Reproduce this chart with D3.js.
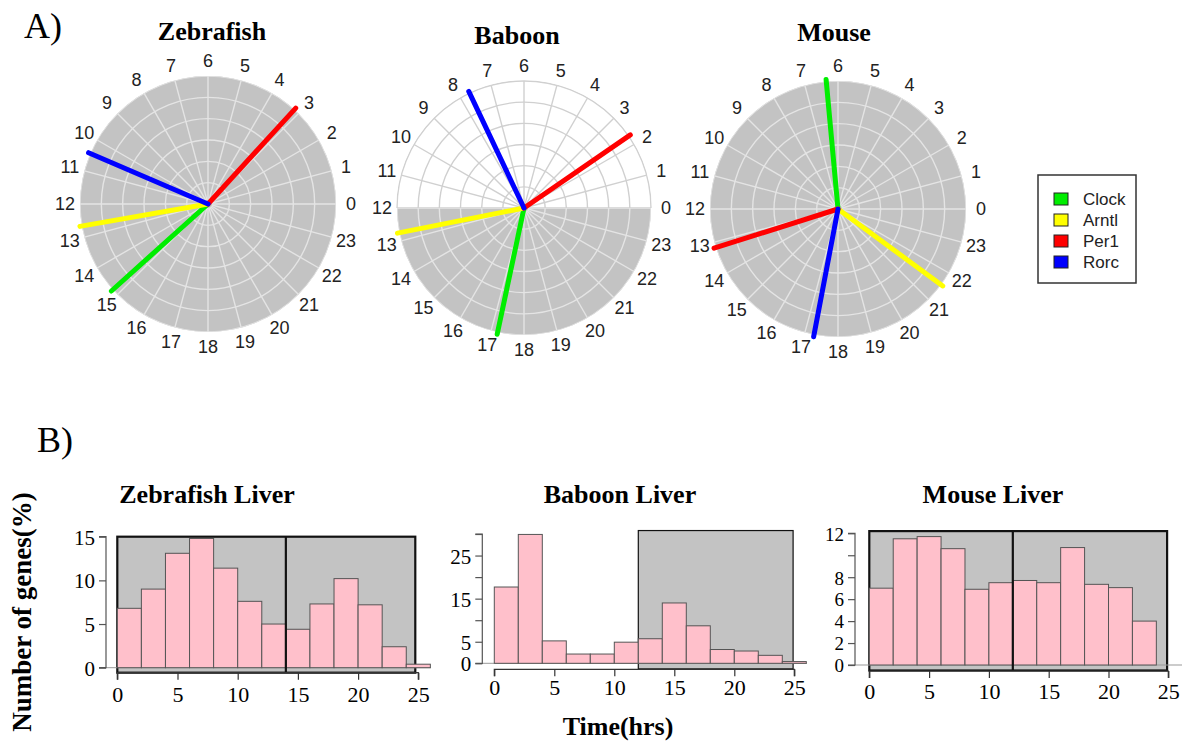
<!DOCTYPE html>
<html>
<head>
<meta charset="utf-8">
<script src="https://cdn.jsdelivr.net/npm/d3@7"></script>
<style>
  html, body { margin: 0; padding: 0; background: #fff; }
  svg { display: block; }
</style>
</head>
<body>
<script>
// ---------------- DATA ----------------
const hourTicks = d3.range(0, 24);
const genes = ["Clock", "Arntl", "Per1", "Rorc"];
const geneColors = ["#00ee00", "#ffff00", "#ff0000", "#0000ff"];

const polarTitles = ["Zebrafish", "Baboon", "Mouse"];
const zebrafishPhase = [14.8, 12.66, 3.17, 10.45];
const baboonPhase = [17.2, 12.75, 2.3, 7.69];
const mousePhase = [6.35, 21.58, 13.17, 17.28];
// dark (gray) part of the clock, in hours
const zebrafishDark = [0, 24];
const baboonDark = [12, 24];
const mouseDark = [0, 24];

const binStarts = [0, 2, 4, 6, 8, 10, 12, 14, 16, 18, 20, 22, 24];
const zebrafishLiver = [6.8, 9.0, 13.1, 14.8, 11.4, 7.6, 5.0, 4.4, 7.3, 10.2, 7.2, 2.4, 0.4];
const baboonLiver = [17.7, 29.9, 5.2, 2.15, 2.15, 4.9, 5.7, 14.0, 8.7, 3.2, 2.85, 1.85, 0.4];
const mouseLiver = [7.0, 11.5, 11.7, 10.6, 6.9, 7.5, 7.7, 7.5, 10.7, 7.35, 7.05, 4.0];

const xTickValues = [0, 5, 10, 15, 20, 25];
const zebrafishYTicks = [0, 5, 10, 15];
const baboonYTicks = [0, 5, 10, 15, 20, 25, 30];
const baboonYLabels = [0, 5, 15, 25];
const mouseYTicks = [0, 2, 4, 6, 8, 10, 12];
const mouseYLabels = [0, 2, 4, 6, 8, 12];

// shaded boxes: [xStart, xEnd, yBottom, yTop] and divider position
const zebrafishShade = [0, 24.75, -0.57, 15];
const zebrafishDivider = 14;
const baboonShade = [12, 24.9, -1.3, 30.8];
const mouseShade = [0, 24.9, -0.5, 12.2];
const mouseDivider = 12;

// ---------------- DRAW ----------------
const W = 1184, H = 742;
const svg = d3.select("body").append("svg").attr("width", W).attr("height", H);
const serif = "'Liberation Serif', 'Times New Roman', serif";
const sans = "'Liberation Sans', Arial, sans-serif";
const GRAY = "#c3c3c3";

svg.append("text").attr("x", 24).attr("y", 38).attr("font-family", serif)
  .attr("font-size", 36).attr("fill", "#000").text("A)");
svg.append("text").attr("x", 37).attr("y", 452).attr("font-family", serif)
  .attr("font-size", 36).attr("fill", "#000").text("B)");

const defs = svg.append("defs");
let clipId = 0;

function drawPolar(cx, cy, R, title, titleX, titleY, phases, dark) {
  const g = svg.append("g");
  const ang = d3.scaleLinear().domain([0, 24]).range([0, 2 * Math.PI]); // ccw from east
  const px = (h, r) => cx + r * Math.cos(ang(h));
  const py = (h, r) => cy - r * Math.sin(ang(h));
  const rScale = d3.scaleLinear().domain([0, 6]).range([0, R]);
  const toD3 = h => Math.PI / 2 - ang(h);

  g.append("text").attr("x", titleX).attr("y", titleY).attr("text-anchor", "middle")
    .attr("font-family", serif).attr("font-weight", "bold").attr("font-size", 26).text(title);

  g.append("circle").attr("cx", cx).attr("cy", cy).attr("r", R).attr("fill", "#fff");
  const full = dark[1] - dark[0] >= 24;
  const darkPath = full
    ? d3.arc().innerRadius(0).outerRadius(R).startAngle(0).endAngle(2 * Math.PI)()
    : d3.arc().innerRadius(0).outerRadius(R).startAngle(toD3(dark[1])).endAngle(toD3(dark[0]))();
  g.append("path").attr("transform", `translate(${cx},${cy})`).attr("d", darkPath).attr("fill", GRAY);

  const idD = "clipD" + (clipId++);
  defs.append("clipPath").attr("id", idD).append("path")
    .attr("transform", `translate(${cx},${cy})`).attr("d", darkPath);
  let idL = null;
  if (!full) {
    idL = "clipL" + (clipId++);
    const lightPath = d3.arc().innerRadius(0).outerRadius(R + 1)
      .startAngle(toD3(dark[1] - 24)).endAngle(toD3(dark[0]));
    defs.append("clipPath").attr("id", idL).append("path")
      .attr("transform", `translate(${cx},${cy})`).attr("d", lightPath());
  }

  function grid(parent, color) {
    parent.selectAll("circle.ring").data(d3.range(1, 7)).join("circle")
      .attr("cx", cx).attr("cy", cy).attr("r", d => rScale(d))
      .attr("fill", "none").attr("stroke", color).attr("stroke-width", 1.4);
    parent.selectAll("line.rad").data(hourTicks).join("line")
      .attr("x1", d => px(d, 4)).attr("y1", d => py(d, 4))
      .attr("x2", d => px(d, R)).attr("y2", d => py(d, R))
      .attr("stroke", color).attr("stroke-width", 1.4);
  }
  grid(g.append("g").attr("clip-path", `url(#${idD})`), "#e4e4e4");
  if (idL) grid(g.append("g").attr("clip-path", `url(#${idL})`), "#d0d0d0");

  g.selectAll("text.hr").data(hourTicks).join("text")
    .attr("x", d => px(d, R + 15)).attr("y", d => py(d, R + 15))
    .attr("text-anchor", "middle").attr("dominant-baseline", "central")
    .attr("font-family", sans).attr("font-size", 18).attr("fill", "#222").text(d => d);

  g.selectAll("line.gene").data(phases).join("line")
    .attr("x1", cx).attr("y1", cy)
    .attr("x2", d => px(d, R + 2)).attr("y2", d => py(d, R + 2))
    .attr("stroke", (d, i) => geneColors[i]).attr("stroke-width", 5)
    .attr("stroke-linecap", "round");
}

drawPolar(208, 204, 128, polarTitles[0], 212, 40, zebrafishPhase, zebrafishDark);
drawPolar(524, 208, 127, polarTitles[1], 517, 44, baboonPhase, baboonDark);
drawPolar(838, 209, 128, polarTitles[2], 834, 41, mousePhase, mouseDark);

// legend
const lg = svg.append("g");
lg.append("rect").attr("x", 1038).attr("y", 175).attr("width", 98).attr("height", 108)
  .attr("fill", "#fff").attr("stroke", "#333").attr("stroke-width", 1.5);
const ly = d3.scalePoint().domain(genes).range([199, 262]);
lg.selectAll("rect.sw").data(genes).join("rect")
  .attr("x", 1054).attr("y", d => ly(d) - 6).attr("width", 14).attr("height", 12)
  .attr("fill", (d, i) => geneColors[i]).attr("stroke", "#222").attr("stroke-width", 1);
lg.selectAll("text.lt").data(genes).join("text")
  .attr("x", 1083).attr("y", d => ly(d)).attr("dominant-baseline", "central")
  .attr("font-family", sans).attr("font-size", 17).attr("fill", "#222").text(d => d);

// histograms
function drawHist(o) {
  const g = svg.append("g");
  const x = d3.scaleLinear().domain([0, 25]).range(o.xRange);
  const y = d3.scaleLinear().domain([0, o.yMax]).range(o.yRange);

  g.append("text").attr("x", o.titleX).attr("y", 503).attr("text-anchor", "middle")
    .attr("font-family", serif).attr("font-weight", "bold").attr("font-size", 26).text(o.title);

  const s = o.shade;
  g.append("rect").attr("x", x(s[0])).attr("y", y(s[3]))
    .attr("width", x(s[1]) - x(s[0])).attr("height", y(s[2]) - y(s[3]))
    .attr("fill", GRAY).attr("stroke", "#111").attr("stroke-width", o.boxStroke);
  g.append("line").attr("x1", o.yAxisX).attr("x2", o.zeroEnd)
    .attr("y1", y(0)).attr("y2", y(0)).attr("stroke", "#999").attr("stroke-width", 1);

  g.selectAll("rect.bar").data(o.values).join("rect")
    .attr("x", (d, i) => x(binStarts[i])).attr("width", (d, i) => x(binStarts[i] + 2) - x(binStarts[i]))
    .attr("y", d => y(d)).attr("height", d => y(0) - y(d))
    .attr("fill", "#ffc0cb").attr("stroke", "#555").attr("stroke-width", 1);
  if (o.divider != null) {
    g.append("line").attr("x1", x(o.divider)).attr("x2", x(o.divider))
      .attr("y1", y(s[3])).attr("y2", y(s[2])).attr("stroke", "#111").attr("stroke-width", 2.2);
  }

  const ya = g.append("g").attr("transform", `translate(${o.yAxisX},0)`)
    .call(d3.axisLeft(y).tickValues(o.yTicks).tickSize(7)
      .tickFormat(d => o.yLabels.includes(d) ? d : ""));
  ya.select(".domain").attr("stroke", "#555").attr("stroke-width", 1.2)
    .attr("d", `M-7,${y(o.yTicks[0])}H0V${y(o.yTicks[o.yTicks.length - 1])}H-7`);
  ya.selectAll(".tick line").attr("stroke", "#555").attr("stroke-width", 1.2);
  ya.selectAll(".tick text").attr("font-family", serif).attr("font-size", o.yFont)
    .attr("fill", "#000").attr("x", -11).attr("dy", "0.36em");

  const xa = g.append("g").attr("transform", `translate(0,${o.xAxisY})`)
    .call(d3.axisBottom(x).tickValues(xTickValues).tickSize(7));
  xa.select(".domain").attr("stroke", "#333").attr("stroke-width", 1.2).attr("d", `M${x(0)},7V0H${x(25)}V7`);
  xa.selectAll(".tick line").attr("stroke", "#333").attr("stroke-width", 1.2);
  xa.selectAll(".tick text").attr("font-family", serif).attr("font-size", 22)
    .attr("fill", "#000").attr("y", o.xLabelOff);
}

drawHist({ title: "Zebrafish Liver", titleX: 207, values: zebrafishLiver,
  xRange: [117.3, 418.3], yMax: 15, yRange: [667.7, 536.7], shade: zebrafishShade,
  divider: zebrafishDivider, boxStroke: 2.2, yAxisX: 106, zeroEnd: 431,
  yTicks: zebrafishYTicks, yLabels: zebrafishYTicks, yFont: 21, xAxisY: 672.7, xLabelOff: 14 });
drawHist({ title: "Baboon Liver", titleX: 620, values: baboonLiver,
  xRange: [494.3, 794.3], yMax: 30, yRange: [663.3, 534], shade: baboonShade,
  divider: null, boxStroke: 1.2, yAxisX: 482.3, zeroEnd: 807,
  yTicks: baboonYTicks, yLabels: baboonYLabels, yFont: 21, xAxisY: 669.3, xLabelOff: 10 });
drawHist({ title: "Mouse Liver", titleX: 993, values: mouseLiver,
  xRange: [869.3, 1168.3], yMax: 12, yRange: [665, 533.3], shade: mouseShade,
  divider: mouseDivider, boxStroke: 2.2, yAxisX: 855, zeroEnd: 1182,
  yTicks: mouseYTicks, yLabels: mouseYLabels, yFont: 19, xAxisY: 671, xLabelOff: 12 });

svg.append("text").attr("transform", "translate(31,612) rotate(-90)").attr("text-anchor", "middle")
  .attr("font-family", serif).attr("font-weight", "bold").attr("font-size", 27).text("Number of genes(%)");
svg.append("text").attr("x", 618).attr("y", 735).attr("text-anchor", "middle")
  .attr("font-family", serif).attr("font-weight", "bold").attr("font-size", 26).text("Time(hrs)");
</script>
</body>
</html>
